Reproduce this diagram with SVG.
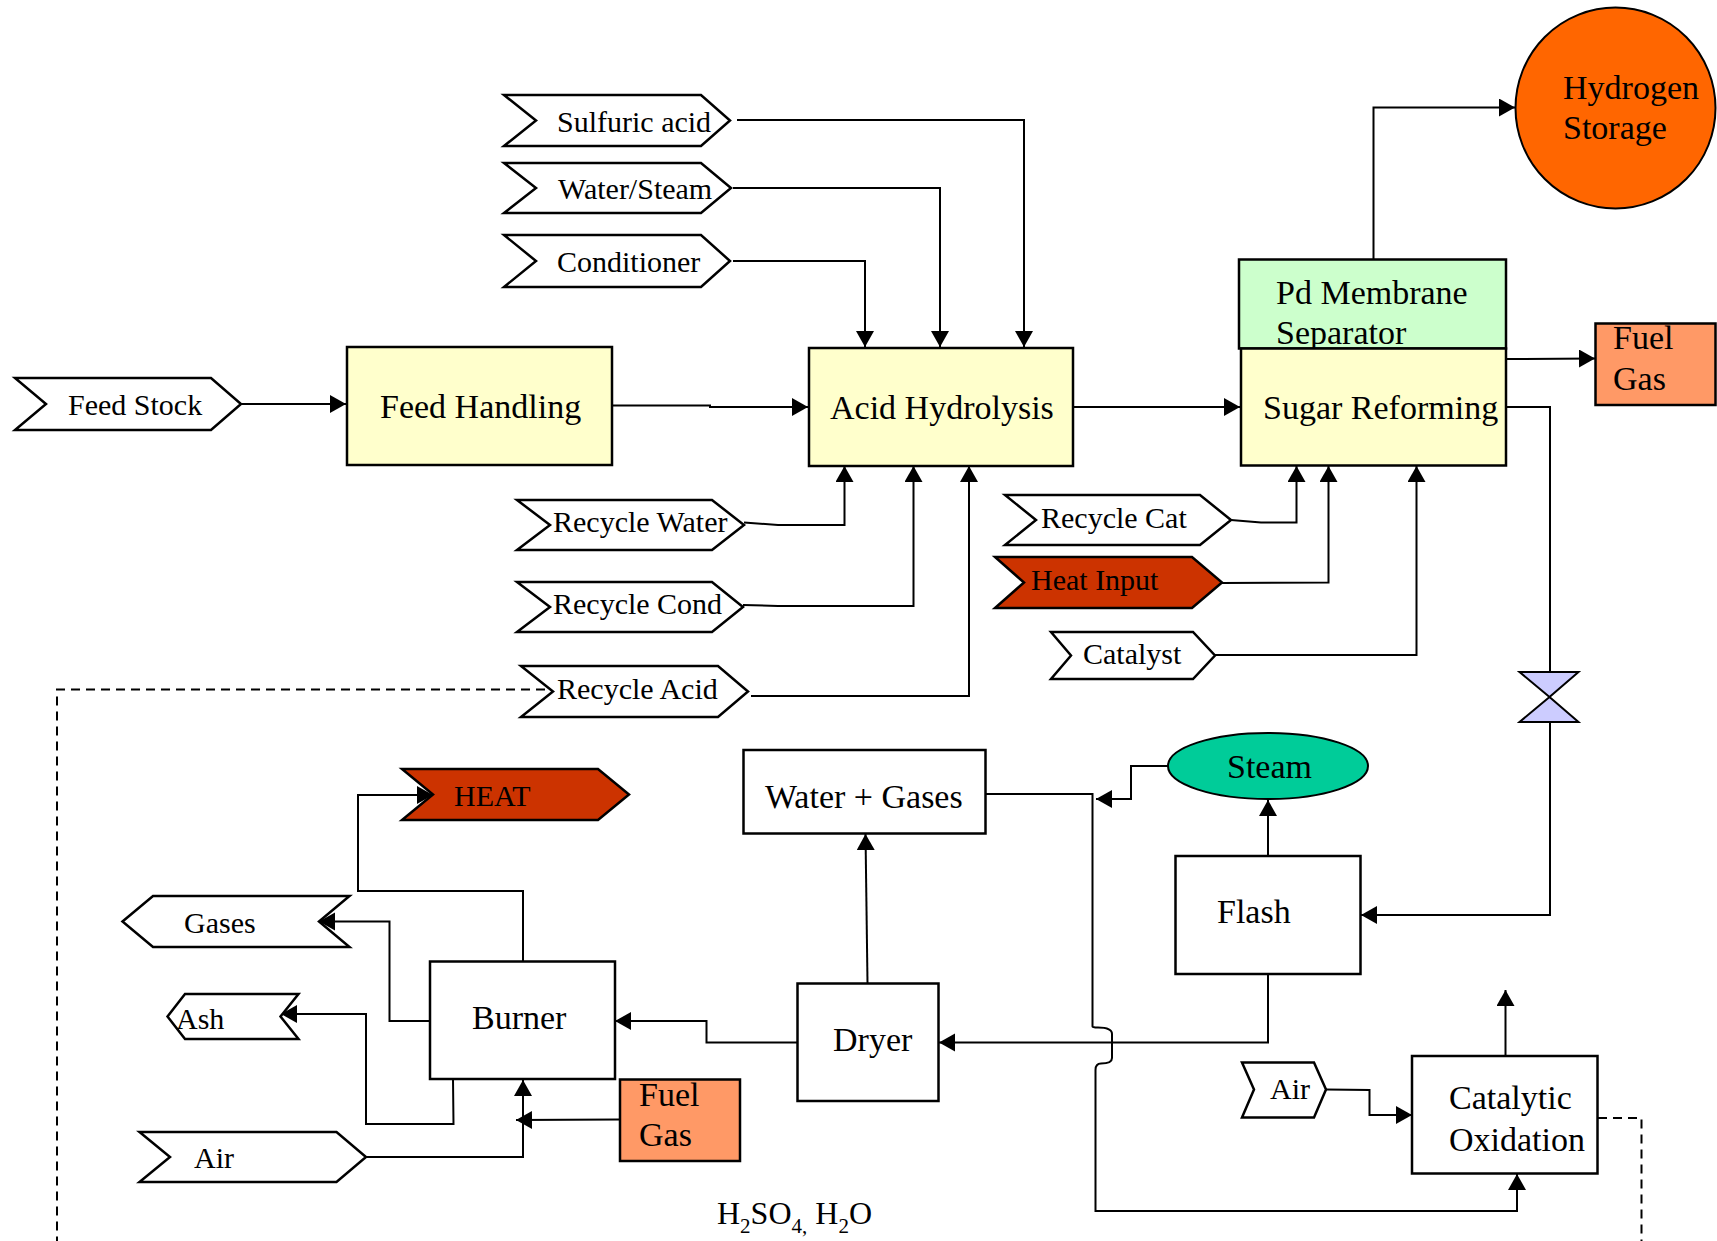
<svg xmlns="http://www.w3.org/2000/svg" width="1717" height="1241" viewBox="0 0 1717 1241">
<defs>
<marker id="ah" markerUnits="userSpaceOnUse" markerWidth="18" markerHeight="20" refX="16" refY="9" orient="auto">
<path d="M0,0 L16,9 L0,18 z" fill="#000"/>
</marker>
<style>
text{font-family:"Liberation Serif","Times New Roman",serif;fill:#000}
.big{font-size:34px}
.sm{font-size:30px}
.box{stroke:#000;stroke-width:2.5}
.chev{fill:#fff;stroke:#000;stroke-width:2.5;stroke-linejoin:miter}
.heat{fill:#cc3300}
.ln{fill:none;stroke:#000;stroke-width:2}
.arr{marker-end:url(#ah)}
.dash{fill:none;stroke:#000;stroke-width:2;stroke-dasharray:9,6}
</style>
</defs>
<rect width="1717" height="1241" fill="#fff"/>

<g id="connectors">
<polyline class="ln arr" points="241,404 346,404"/>
<polyline class="ln arr" points="612,405.5 710,405.5 710,407 808,407"/>
<polyline class="ln arr" points="737,120 1024,120 1024,347"/>
<polyline class="ln arr" points="733,188 940,188 940,347"/>
<polyline class="ln arr" points="733,261 865,261 865,347"/>
<polyline class="ln arr" points="1073,407 1240,407"/>
<polyline class="ln arr" points="1373.5,259 1373.5,107.5 1515,107.5"/>
<polyline class="ln arr" points="1506,359 1595,358.5"/>
<polyline class="ln" points="1506,407 1550,407 1550,672"/>
<polyline class="ln arr" points="1550,722 1550,915 1361,915"/>
<polyline class="ln arr" points="744,522.5 778,525 844.5,525 844.5,466"/>
<polyline class="ln arr" points="743,605 778,606 913.5,606 913.5,466"/>
<polyline class="ln arr" points="751,696 969,696 969,466"/>
<polyline class="ln arr" points="1231,520 1261,522.5 1296.5,522.5 1296.5,466"/>
<polyline class="ln arr" points="1222,583 1328.5,582.5 1328.5,466"/>
<polyline class="ln arr" points="1215,655 1416.5,655 1416.5,466"/>
<polyline class="dash" points="545,689.5 57,689.5 57,1241"/>
<polyline class="ln arr" points="1168,766 1131,766 1131,799 1096,799"/>
<path class="ln arr" d="M985,794 L1092.5,794 L1092.5,1026.5 Q1092.5,1027.5 1098,1027.5 Q1112,1027.5 1112,1034 L1112,1058 Q1112,1063.5 1101,1063.5 Q1095.5,1063.5 1095.5,1070 L1095.5,1211 L1517,1211 L1517,1174"/>
<polyline class="ln arr" points="1268,856 1268,800"/>
<polyline class="ln arr" points="1268,974 1268,1042.5 939,1042.5"/>
<polyline class="ln arr" points="867.5,983 865.5,834"/>
<polyline class="ln arr" points="797,1042.5 706.5,1042.5 706.5,1021 615,1021"/>
<polyline class="ln arr" points="523,961 523,891 358,891 358,795 433,795"/>
<polyline class="ln arr" points="430,1021 389.5,1021 389.5,921.5 319,921.5"/>
<polyline class="ln arr" points="453,1079 453.5,1124 366,1124 366,1014 281,1014"/>
<polyline class="ln arr" points="366,1157 523,1157 523,1080"/>
<polyline class="ln arr" points="620,1119.5 516,1120"/>
<polyline class="ln arr" points="1326,1089.5 1369.5,1090 1369.5,1115 1412,1115"/>
<polyline class="ln arr" points="1505.5,1056 1505.5,990"/>
<polyline class="dash" points="1598,1118 1641.5,1118 1641.5,1241"/>
</g>

<g id="sulfuric-acid"><polygon class="chev" points="504,95 701,95 730,120.5 701,146 504,146 536,120.5"/><text class="sm" x="557" y="132">Sulfuric acid</text></g>
<g id="water-steam"><polygon class="chev" points="504,163 701,163 731,188 701,213 504,213 536,188"/><text class="sm" x="558" y="199">Water/Steam</text></g>
<g id="conditioner"><polygon class="chev" points="504,235 701,235 730,261 701,287 504,287 536,261"/><text class="sm" x="557" y="272">Conditioner</text></g>
<g id="feed-stock"><polygon class="chev" points="15,378 211,378 241,404 211,430 15,430 46,404"/><text class="sm" x="68" y="415">Feed Stock</text></g>
<g id="feed-handling"><rect class="box" x="347" y="347" width="265" height="118" fill="#ffffcc"/><text class="big" x="380" y="418">Feed Handling</text></g>
<g id="acid-hydrolysis"><rect class="box" x="809" y="348" width="264" height="118" fill="#ffffcc"/><text class="big" x="830" y="419">Acid Hydrolysis</text></g>
<g id="pd-membrane"><rect class="box" x="1239" y="259.5" width="267" height="89" fill="#ccffcc"/><text class="big" x="1276" y="304">Pd Membrane</text><text class="big" x="1276" y="344">Separator</text></g>
<g id="sugar-reforming"><rect class="box" x="1241" y="348.5" width="265" height="117" fill="#ffffcc"/><text class="big" x="1263" y="419">Sugar Reforming</text></g>
<g id="hydrogen-storage"><ellipse cx="1615.5" cy="108" rx="100" ry="100.5" fill="#ff6600" stroke="#000" stroke-width="2"/><text class="big" x="1563" y="99">Hydrogen</text><text class="big" x="1563" y="139">Storage</text></g>
<g id="fuel-gas-top"><rect class="box" x="1595.5" y="323.5" width="120" height="81.5" fill="#ff9966"/><text class="big" x="1613" y="349">Fuel</text><text class="big" x="1613" y="390">Gas</text></g>
<g id="recycle-water"><polygon class="chev" points="517,500 712,500 744,525 712,550 517,550 550,525"/><text class="sm" x="553" y="532">Recycle Water</text></g>
<g id="recycle-cond"><polygon class="chev" points="517,582 712,582 743,607 712,632 517,632 550,607"/><text class="sm" x="553" y="614">Recycle Cond</text></g>
<g id="recycle-acid"><polygon class="chev" points="521,666 718,666 748,691.5 718,717 521,717 553,691.5"/><text class="sm" x="557" y="699">Recycle Acid</text></g>
<g id="recycle-cat"><polygon class="chev" points="1005,495 1200,495 1231,520 1200,545 1005,545 1036,520"/><text class="sm" x="1041" y="528">Recycle Cat</text></g>
<g id="heat-input"><polygon class="chev heat" points="995,557 1192,557 1222,582.5 1192,608 995,608 1024,582.5"/><text class="sm" x="1031" y="590">Heat Input</text></g>
<g id="catalyst"><polygon class="chev" points="1051,632 1193,632 1215,655.5 1193,679 1051,679 1071,655.5"/><text class="sm" x="1083" y="664">Catalyst</text></g>
<g id="valve"><polygon points="1519.5,672 1578.5,672 1549.5,697 1578.5,722 1519.5,722 1549.5,697" fill="#ccccff" stroke="#000" stroke-width="2"/></g>
<g id="heat"><polygon class="chev heat" points="402,769 598,769 629,794.5 598,820 402,820 433,794.5"/><text class="sm" x="454" y="806">HEAT</text></g>
<g id="gases"><polygon class="chev" points="122.5,921.5 153,896 349.5,896 319,921.5 349.5,947 153,947"/><text class="sm" x="184" y="933">Gases</text></g>
<g id="ash"><polygon class="chev" points="167.5,1016.5 185,994 298.5,994 280.5,1016.5 298.5,1039 185,1039"/><text class="sm" x="176" y="1029">Ash</text></g>
<g id="air-left"><polygon class="chev" points="139.5,1132 336.5,1132 366,1157 336.5,1182 139.5,1182 170,1157"/><text class="sm" x="194" y="1168">Air</text></g>
<g id="burner"><rect class="box" x="430" y="961.5" width="185" height="117.5" fill="#fff"/><text class="big" x="472" y="1029">Burner</text></g>
<g id="fuel-gas-bottom"><rect class="box" x="620" y="1079.5" width="120" height="81.5" fill="#ff9966"/><text class="big" x="639" y="1106">Fuel</text><text class="big" x="639" y="1146">Gas</text></g>
<g id="water-gases"><rect class="box" x="743.5" y="750" width="242" height="83.5" fill="#fff"/><text class="big" x="765" y="808">Water + Gases</text></g>
<g id="steam"><ellipse cx="1268" cy="766" rx="100" ry="33" fill="#00cc99" stroke="#000" stroke-width="2"/><text class="big" x="1227" y="778">Steam</text></g>
<g id="flash"><rect class="box" x="1175.5" y="856" width="185" height="118" fill="#fff"/><text class="big" x="1217" y="923">Flash</text></g>
<g id="dryer"><rect class="box" x="797.5" y="983.5" width="141" height="117.5" fill="#fff"/><text class="big" x="833" y="1051">Dryer</text></g>
<g id="air-right"><polygon class="chev" points="1242,1062.5 1314,1062.5 1326,1089.5 1314,1117.5 1242,1117.5 1254,1089.5"/><text class="sm" x="1270" y="1099">Air</text></g>
<g id="catalytic-oxidation"><rect class="box" x="1412" y="1056" width="185.5" height="117.5" fill="#fff"/><text class="big" x="1449" y="1109">Catalytic</text><text class="big" x="1449" y="1151">Oxidation</text></g>
<g id="h2so4-label"><text x="717" y="1224" style="font-size:32px">H<tspan dy="9" style="font-size:21px">2</tspan><tspan dy="-9">SO</tspan><tspan dy="9" style="font-size:21px">4,</tspan><tspan dy="-9"> H</tspan><tspan dy="9" style="font-size:21px">2</tspan><tspan dy="-9">O</tspan></text></g>
</svg>
